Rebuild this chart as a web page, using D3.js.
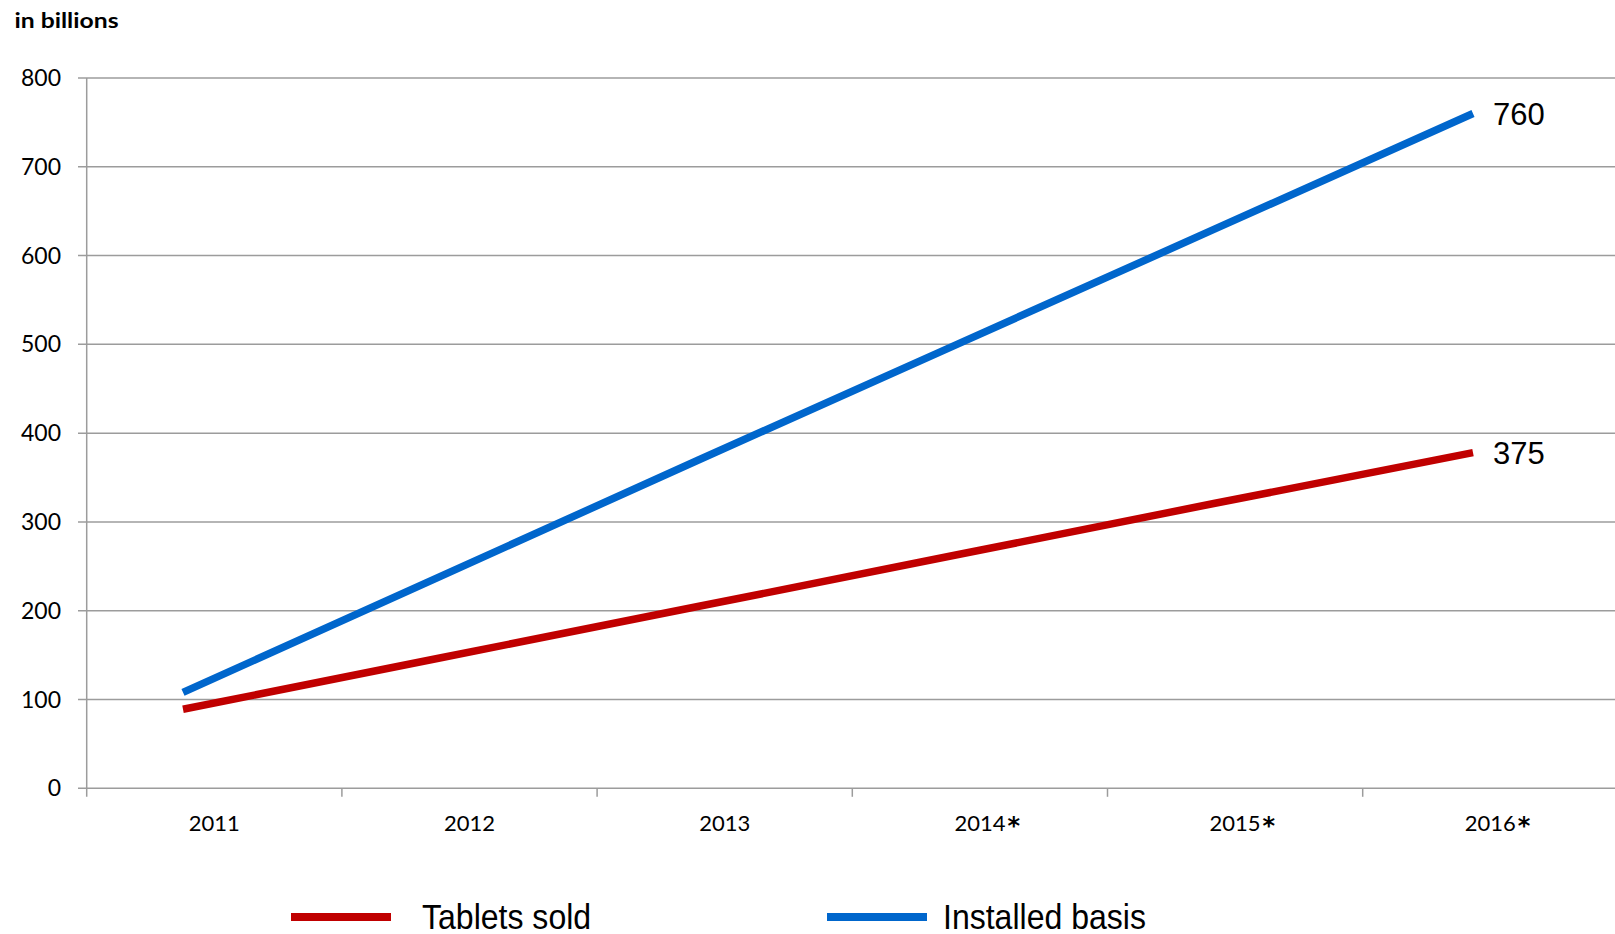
<!DOCTYPE html>
<html>
<head>
<meta charset="utf-8">
<script src="https://cdn.jsdelivr.net/npm/d3@7"></script>
<style>
body { margin: 0; background: #fff; }
svg { display: block; }
</style>
</head>
<body>
<div id="chart"></div>
<script>
// data
var years = ["2011", "2012", "2013", "2014", "2015", "2016"];
var forecast = [false, false, false, true, true, true];
var tabletsSold = [89, 147, 205, 263, 321, 378];
var installedBasis = [108, 239, 370, 500, 630, 760];
var endLabels = ["375", "760"];
var yTicks = [0, 100, 200, 300, 400, 500, 600, 700, 800];
var seriesNames = ["Tablets sold", "Installed basis"];

var width = 1615, height = 934;
var margin = {top: 78, left: 86.7, bottom: 145.7};
var red = "#c00000", blue = "#0066cc", grey = "#9c9c9c";

var svg = d3.select("#chart")
.append("svg")
.attr("width", width)
.attr("height", height);

var y = d3.scaleLinear()
.domain([0, 800])
.range([height - margin.bottom, margin.top]);

// categories run a bit past the right edge of the picture
var xBand = d3.scaleBand()
.domain(years)
.range([margin.left, margin.left + 6 * 255.2]);

// the lines sit a little left of the category centres
var xLine = d3.scalePoint()
.domain(years)
.range([183, 1473]);

// grid lines + y labels
svg.append("g")
.selectAll("line")
.data(yTicks)
.enter()
.append("line")
.attr("x1", margin.left - 8.7)
.attr("x2", width)
.attr("y1", function (d) { return y(d); })
.attr("y2", function (d) { return y(d); })
.attr("stroke", grey)
.attr("stroke-width", 1.5);

svg.append("g")
.selectAll("text")
.data(yTicks)
.enter()
.append("text")
.attr("x", 61)
.attr("y", function (d) { return y(d) + 8; })
.attr("text-anchor", "end")
.style("font-family", "Lato, 'Open Sans', sans-serif")
.style("font-size", "23px")
.attr("fill", "#000")
.text(function (d) { return d; });

// y axis line
svg.append("line")
.attr("x1", margin.left).attr("x2", margin.left)
.attr("y1", y(800)).attr("y2", y(0) + 8.5)
.attr("stroke", grey)
.attr("stroke-width", 1.5);

// x ticks on the category boundaries
var bounds = years.map(function (d) { return xBand(d); }).concat([xBand.range()[1]]);
svg.append("g")
.selectAll("line")
.data(bounds.slice(1))
.enter()
.append("line")
.attr("x1", function (d) { return d; })
.attr("x2", function (d) { return d; })
.attr("y1", y(0))
.attr("y2", y(0) + 8.5)
.attr("stroke", grey)
.attr("stroke-width", 1.5);

// x labels
var xl = svg.append("g")
.selectAll("g")
.data(years)
.enter()
.append("g");

xl.append("text")
.attr("class", "yr")
.attr("x", function (d) { return xBand(d) + xBand.bandwidth() / 2; })
.attr("y", 831)
.attr("text-anchor", "middle")
.style("font-family", "Lato, 'Open Sans', sans-serif")
.style("font-size", "22px")
.text(function (d) { return d; });

xl.each(function (d, i) {
    if (!forecast[i]) return;
    var t = d3.select(this).select("text.yr");
    var w = t.node().getComputedTextLength();
    d3.select(this).append("text")
    .attr("x", xBand(d) + xBand.bandwidth() / 2 + w / 2 + 2)
    .attr("y", 834)
    .style("font-family", "'DejaVu Sans', sans-serif")
    .style("font-size", "24px")
    .style("font-weight", "bold")
    .text("*");
});

// lines
var line = d3.line()
.x(function (d, i) { return xLine(years[i]); })
.y(function (d) { return y(d); });

var series = [
    {name: seriesNames[0], values: tabletsSold, colour: red, label: endLabels[0]},
    {name: seriesNames[1], values: installedBasis, colour: blue, label: endLabels[1]}
];

svg.append("g")
.selectAll("path")
.data(series)
.enter()
.append("path")
.attr("d", function (s) { return line(s.values); })
.attr("fill", "none")
.attr("stroke", function (s) { return s.colour; })
.attr("stroke-width", 7.5)
.attr("stroke-linecap", "butt");

// end value labels
svg.append("g")
.selectAll("text")
.data(series)
.enter()
.append("text")
.attr("x", xLine(years[years.length - 1]) + 20)
.attr("y", function (s) { return y(s.values[s.values.length - 1]) + 11; })
.style("font-family", "'Liberation Sans', Arial, sans-serif")
.style("font-size", "31px")
.text(function (s) { return s.label; });

// title
svg.append("text")
.attr("x", 14.5)
.attr("y", 28)
.style("font-family", "Lato, 'Open Sans', sans-serif")
.style("font-size", "21px")
.style("font-weight", "bold")
.attr("textLength", 104)
.attr("lengthAdjust", "spacingAndGlyphs")
.text("in billions");

// legend, text squeezed like a narrow face
var legendX = [291, 827];
var legendTextX = [131, 116];
var leg = svg.append("g")
.selectAll("g")
.data(series)
.enter()
.append("g")
.attr("transform", function (s, i) { return "translate(" + legendX[i] + ",917)"; });

leg.append("line")
.attr("x1", 0).attr("x2", 100)
.attr("y1", 0).attr("y2", 0)
.attr("stroke", function (s) { return s.colour; })
.attr("stroke-width", 8);

leg.append("text")
.attr("x", function (s, i) { return legendTextX[i]; })
.attr("y", 12)
.style("font-family", "'Liberation Sans', Arial, sans-serif")
.style("font-size", "35px")
.text(function (s) { return s.name; })
.each(function () {
    var w = this.getComputedTextLength();
    d3.select(this)
    .attr("textLength", w * 0.915)
    .attr("lengthAdjust", "spacingAndGlyphs");
});
</script>
</body>
</html>
